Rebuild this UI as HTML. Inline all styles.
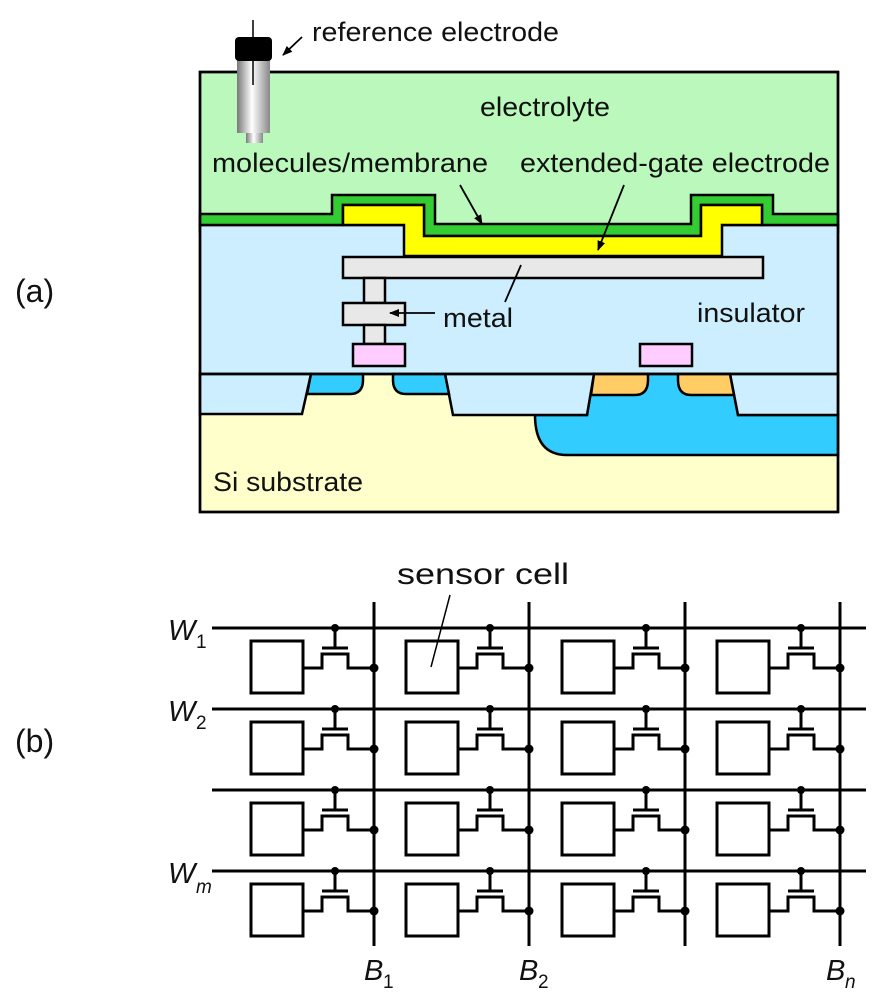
<!DOCTYPE html>
<html><head><meta charset="utf-8"><style>
html,body{margin:0;padding:0;background:#fff;}
svg{display:block;}
text{font-family:"Liberation Sans",sans-serif;fill:#111;}
</style></head><body>
<svg width="876" height="1000" viewBox="0 0 876 1000" xmlns="http://www.w3.org/2000/svg">
<defs>
<linearGradient id="cyl" x1="0" x2="1" y1="0" y2="0">
<stop offset="0" stop-color="#777"/><stop offset="0.45" stop-color="#fff"/><stop offset="1" stop-color="#888"/>
</linearGradient>
<marker id="ah" markerWidth="10" markerHeight="10" refX="9" refY="5" orient="auto" markerUnits="userSpaceOnUse">
<path d="M0,1 L10,5 L0,9 Z" fill="#000"/>
</marker>
</defs>
<g stroke="#000" stroke-width="2.5" stroke-linejoin="miter">
<rect x="200" y="72" width="638" height="160" fill="#bbf8bb"/>
<rect x="200" y="373" width="638" height="139" fill="#ffffcc"/>
<rect x="200" y="225" width="638" height="149" fill="#cceeff"/>
<path d="M200,214 H332 V195 H435 V224 H691 V195 H773 V214 H838 V225 H762 V205 H701 V236 H424 V205 H343 V225 H200 Z" fill="#33cc33"/>
<path d="M343,205 H424 V236 H701 V205 H762 V225 H722 V256 H404 V225 H343 Z" fill="#ffff00"/>
<rect x="343" y="257" width="420" height="21" fill="#e8e8e8"/>
<rect x="364" y="278" width="21" height="25" fill="#e8e8e8"/>
<rect x="343" y="303" width="62" height="22" fill="#e8e8e8"/>
<rect x="364" y="325" width="21" height="19" fill="#e8e8e8"/>
<rect x="353" y="344" width="52" height="22" fill="#ffccff"/>
<rect x="640" y="344" width="52" height="22" fill="#ffccff"/>
<!-- n-well -->
<path d="M535,415 H587 L594,374 H730 L738,415 H838 V455 H567 Q535,455 535,415 Z" fill="#33ccff"/>
<path d="M200,374 H311 L302,414 H200 Z" fill="#cceeff"/>
<path d="M445,374 H594 L587,415 H453 Z" fill="#cceeff"/>
<path d="M730,374 H838 V415 H738 Z" fill="#cceeff"/>
<path d="M311,374 H363 V380 Q363,394 350,394 H307 Z" fill="#33ccff"/>
<path d="M393,374 H445 L449,394 H406 Q393,394 393,380 Z" fill="#33ccff"/>
<path d="M594,374 H648 V380 Q648,395 635,395 H591 Z" fill="#ffcc66"/>
<path d="M678,374 H730 L734,395 H691 Q678,395 678,380 Z" fill="#ffcc66"/>
<line x1="200" y1="374" x2="838" y2="374"/>
<rect x="200" y="72" width="638" height="440" fill="none"/>
</g>
<rect x="237" y="58" width="33" height="75" fill="url(#cyl)"/>
<rect x="246" y="133" width="17" height="10" fill="url(#cyl)"/>
<rect x="235" y="37" width="37" height="24" rx="4" fill="#000"/>
<line x1="253" y1="20" x2="253" y2="37" stroke="#000" stroke-width="1.5"/>
<line x1="253" y1="61" x2="253" y2="85" stroke="#000" stroke-width="1.5"/>
<g stroke="#000" stroke-width="1.8" fill="none">
<line x1="302" y1="37" x2="283" y2="55" marker-end="url(#ah)"/>
<line x1="460" y1="185" x2="482" y2="224" marker-end="url(#ah)"/>
<line x1="624" y1="185" x2="598" y2="250" marker-end="url(#ah)"/>
<line x1="435" y1="313" x2="390" y2="313" marker-end="url(#ah)"/>
<line x1="505" y1="302" x2="521" y2="265"/>
</g>
<text x="312" y="41" font-size="27" textLength="247" lengthAdjust="spacingAndGlyphs">reference electrode</text>
<text x="480" y="116" font-size="27" textLength="130" lengthAdjust="spacingAndGlyphs">electrolyte</text>
<text x="212" y="172" font-size="27" textLength="276" lengthAdjust="spacingAndGlyphs">molecules/membrane</text>
<text x="520" y="172" font-size="27" textLength="310" lengthAdjust="spacingAndGlyphs">extended-gate electrode</text>
<text x="443" y="327" font-size="27" textLength="70" lengthAdjust="spacingAndGlyphs">metal</text>
<text x="697" y="322" font-size="27" textLength="108" lengthAdjust="spacingAndGlyphs">insulator</text>
<text x="213" y="491" font-size="27" textLength="150" lengthAdjust="spacingAndGlyphs">Si substrate</text>
<text x="15" y="302" font-size="32">(a)</text>
<text x="15" y="752" font-size="32">(b)</text>
<text x="397" y="584" font-size="30" textLength="172" lengthAdjust="spacingAndGlyphs">sensor cell</text>
<line x1="450" y1="595" x2="431" y2="667" stroke="#000" stroke-width="1.5"/>
<g stroke="#000" stroke-width="3" fill="none">
<line x1="212" y1="628" x2="866" y2="628"/>
<line x1="212" y1="709" x2="866" y2="709"/>
<line x1="212" y1="790" x2="866" y2="790"/>
<line x1="212" y1="871" x2="866" y2="871"/>
<line x1="374" y1="602" x2="374" y2="946"/>
<line x1="529" y1="602" x2="529" y2="946"/>
<line x1="685" y1="602" x2="685" y2="946"/>
<line x1="840" y1="602" x2="840" y2="946"/>
</g>
<g id="cells" stroke="#000" stroke-width="3" fill="none">
<g id="r1">
<g id="c1">
<rect x="251" y="641" width="52" height="52"/>
<line x1="335" y1="628" x2="335" y2="648"/>
<line x1="322" y1="648" x2="348" y2="648"/>
<path d="M303,668 H322 V654 H348 V668 H374"/>
<circle cx="335" cy="628" r="4" fill="#000" stroke="none"/>
<circle cx="374" cy="668" r="4.5" fill="#000" stroke="none"/>
</g>
<use href="#c1" x="155"/>
<use href="#c1" x="311"/>
<use href="#c1" x="466"/>
</g>
<use href="#r1" y="81"/>
<use href="#r1" y="162"/>
<use href="#r1" y="243"/>
</g>
<g font-style="italic">
<text x="168" y="640" font-size="29">W</text><text x="196" y="648" font-size="19" font-style="normal">1</text>
<text x="168" y="721" font-size="29">W</text><text x="196" y="729" font-size="19" font-style="normal">2</text>
<text x="168" y="883" font-size="29">W</text><text x="196" y="893" font-size="19" font-style="italic">m</text>
<text x="364" y="980" font-size="29">B</text><text x="383" y="988" font-size="19" font-style="normal">1</text>
<text x="519" y="980" font-size="29">B</text><text x="538" y="988" font-size="19" font-style="normal">2</text>
<text x="826" y="980" font-size="29">B</text><text x="845" y="988" font-size="19">n</text>
</g>
</svg>
</body></html>
